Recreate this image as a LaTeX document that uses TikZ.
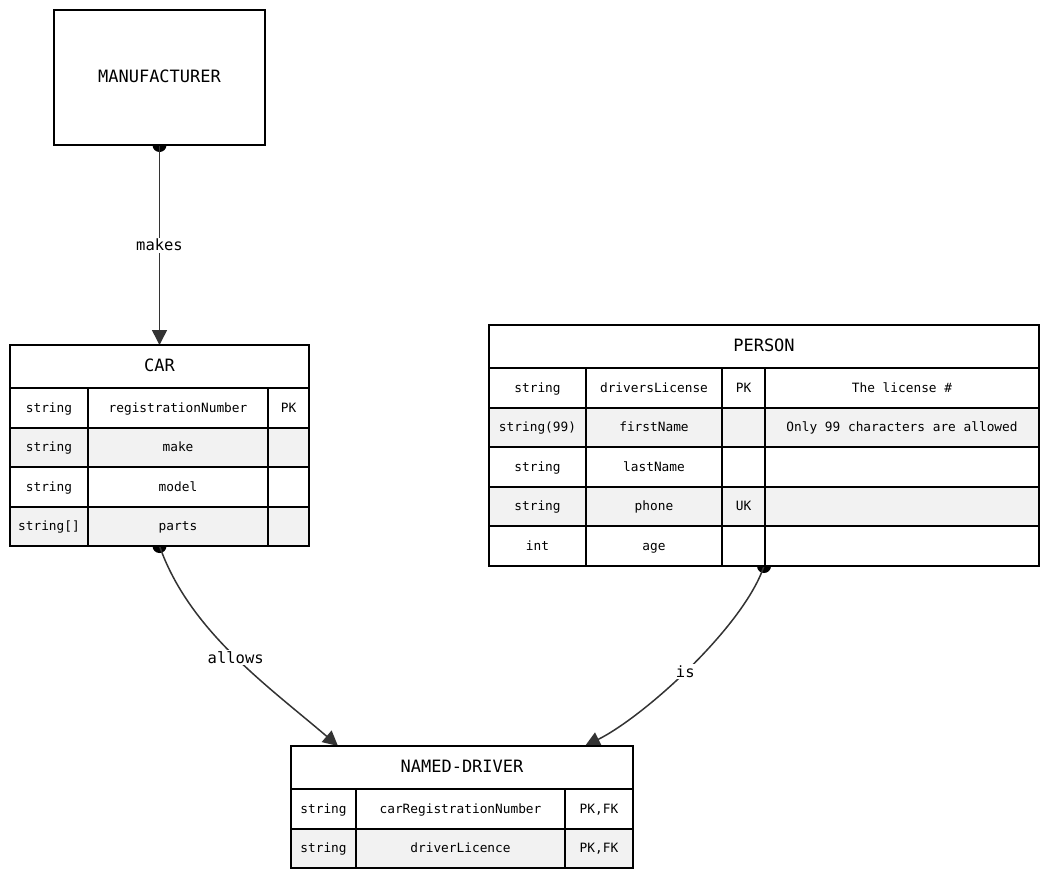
\documentclass[tikz,border=0pt]{standalone}
\usepackage{fontspec}
\setmonofont{DejaVu Sans Mono}
\usetikzlibrary{arrows.meta}
\definecolor{rowgray}{HTML}{F2F2F2}
\definecolor{linkgray}{HTML}{333333}
\tikzset{
  tbl/.style={draw=none, inner sep=0pt, outer sep=0pt},
  cellbox/.style={draw=black, line width=2pt, inner sep=0pt, outer sep=0pt, fill=white,
    font=\ttfamily\fontsize{12.8}{14}\selectfont, text height=2.05ex, text depth=0ex},
  graycell/.style={cellbox, fill=rowgray},
  headbox/.style={cellbox, font=\ttfamily\fontsize{17}{20}\selectfont, text height=2.4ex},
  link/.style={draw=linkgray, line width=1.5pt, -{Triangle[length=15pt,width=15pt]}},
  linklabel/.style={fill=white, inner sep=1.5pt, font=\ttfamily\fontsize{15.5}{18}\selectfont},
  enddot/.style={circle, fill=black, inner sep=0pt, minimum size=14pt}
}
\newcommand\ercell[7]{\node[#1, minimum width={#5-#3}, minimum height={#6-#4}, anchor=north west] (#2) at (#3,#4) {#7};}
\begin{document}
\begin{tikzpicture}[x=1pt,y=-1pt]
\useasboundingbox (0,0) rectangle (1049,878);
% table frames
\node[tbl, minimum width=211, minimum height=135, anchor=north west] (manuf) at (54,10) {};
\node[tbl, minimum width=299, minimum height=201, anchor=north west] (car) at (10,345) {};
\node[tbl, minimum width=550, minimum height=241, anchor=north west] (person) at (489,325) {};
\node[tbl, minimum width=342, minimum height=122, anchor=north west] (nd) at (291,746) {};
\coordinate (ndL) at ([xshift=-124pt]nd.north);
\coordinate (ndR) at ([xshift=123pt]nd.north);
% connectors
\node[enddot] (d1) at (manuf.south) {};
\node[enddot] (d2) at (car.south) {};
\node[enddot] (d3) at (person.south) {};
\draw[link] (manuf.south) -- node[linklabel] {makes} (car.north);
\draw[link] (car.south) .. controls +(30,85) and +(-70,-60) .. (ndL) node[linklabel, pos=0.51] {allows};
\draw[link] (person.south) .. controls +(-20,60) and +(60,-30) .. (ndR) node[linklabel, pos=0.52] {is};
% MANUFACTURER
\ercell{headbox}{mf}{54}{10}{265}{145}{MANUFACTURER}
% CAR
\ercell{headbox}{carh}{10}{345}{309}{388}{CAR}
\ercell{cellbox}{c11}{10}{388}{88}{428}{string}
\ercell{cellbox}{c12}{88}{388}{268}{428}{registrationNumber}
\ercell{cellbox}{c13}{268}{388}{309}{428}{PK}
\ercell{graycell}{c21}{10}{428}{88}{467}{string}
\ercell{graycell}{c22}{88}{428}{268}{467}{make}
\ercell{graycell}{c23}{268}{428}{309}{467}{}
\ercell{cellbox}{c31}{10}{467}{88}{507}{string}
\ercell{cellbox}{c32}{88}{467}{268}{507}{model}
\ercell{cellbox}{c33}{268}{467}{309}{507}{}
\ercell{graycell}{c41}{10}{507}{88}{546}{string[]}
\ercell{graycell}{c42}{88}{507}{268}{546}{parts}
\ercell{graycell}{c43}{268}{507}{309}{546}{}
% PERSON
\ercell{headbox}{ph}{489}{325}{1039}{368}{PERSON}
\ercell{cellbox}{p11}{489}{368}{586}{408}{string}
\ercell{cellbox}{p12}{586}{368}{722}{408}{driversLicense}
\ercell{cellbox}{p13}{722}{368}{765}{408}{PK}
\ercell{cellbox}{p14}{765}{368}{1039}{408}{The license \#}
\ercell{graycell}{p21}{489}{408}{586}{447}{string(99)}
\ercell{graycell}{p22}{586}{408}{722}{447}{firstName}
\ercell{graycell}{p23}{722}{408}{765}{447}{}
\ercell{graycell}{p24}{765}{408}{1039}{447}{Only 99 characters are allowed}
\ercell{cellbox}{p31}{489}{447}{586}{487}{string}
\ercell{cellbox}{p32}{586}{447}{722}{487}{lastName}
\ercell{cellbox}{p33}{722}{447}{765}{487}{}
\ercell{cellbox}{p34}{765}{447}{1039}{487}{}
\ercell{graycell}{p41}{489}{487}{586}{526}{string}
\ercell{graycell}{p42}{586}{487}{722}{526}{phone}
\ercell{graycell}{p43}{722}{487}{765}{526}{UK}
\ercell{graycell}{p44}{765}{487}{1039}{526}{}
\ercell{cellbox}{p51}{489}{526}{586}{566}{int}
\ercell{cellbox}{p52}{586}{526}{722}{566}{age}
\ercell{cellbox}{p53}{722}{526}{765}{566}{}
\ercell{cellbox}{p54}{765}{526}{1039}{566}{}
% NAMED-DRIVER
\ercell{headbox}{ndh}{291}{746}{633}{789}{NAMED-DRIVER}
\ercell{cellbox}{n11}{291}{789}{356}{829}{string}
\ercell{cellbox}{n12}{356}{789}{565}{829}{carRegistrationNumber}
\ercell{cellbox}{n13}{565}{789}{633}{829}{PK,FK}
\ercell{graycell}{n21}{291}{829}{356}{868}{string}
\ercell{graycell}{n22}{356}{829}{565}{868}{driverLicence}
\ercell{graycell}{n23}{565}{829}{633}{868}{PK,FK}
\end{tikzpicture}
\end{document}
